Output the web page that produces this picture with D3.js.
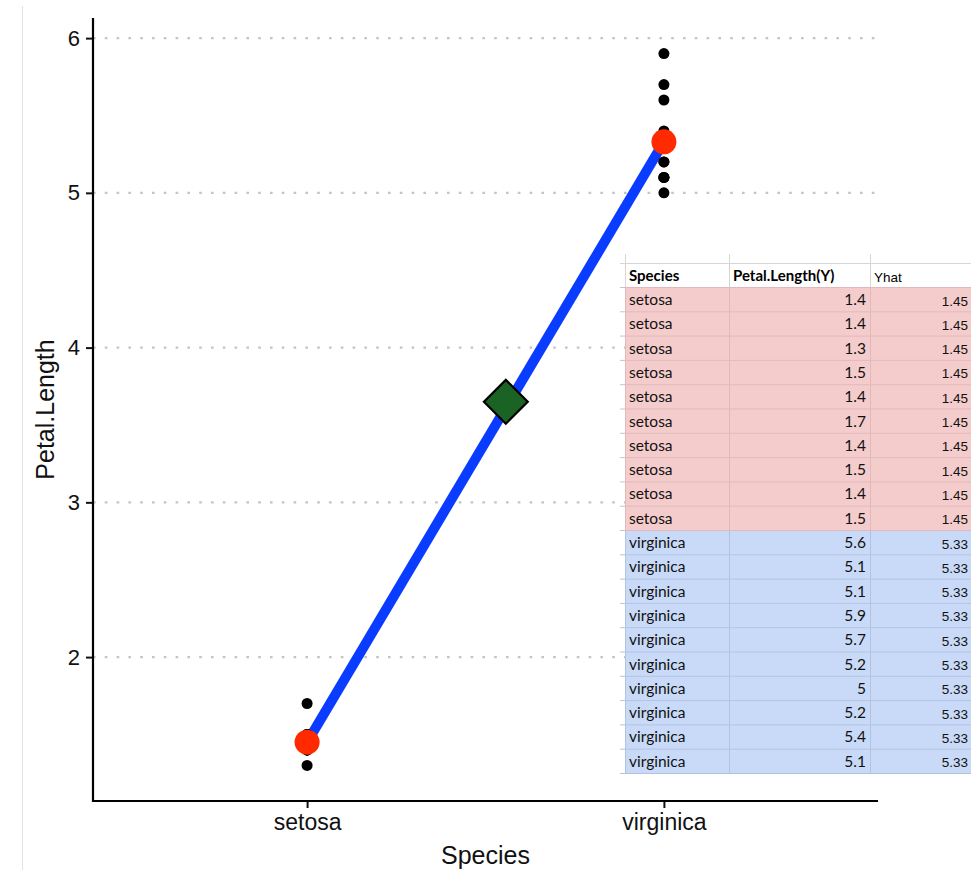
<!DOCTYPE html>
<html>
<head>
<meta charset="utf-8">
<script src="https://cdn.jsdelivr.net/npm/d3@7"></script>
<style>
  html, body { margin: 0; padding: 0; background: #fff; }
  svg { display: block; }
</style>
</head>
<body>
<svg id="chart" width="971" height="870"></svg>
<script>
// Iris petal lengths for two species, with fitted group means (Yhat)
const categories = ["setosa", "virginica"];
const setosaValues = [1.4, 1.4, 1.3, 1.5, 1.4, 1.7, 1.4, 1.5, 1.4, 1.5];
const virginicaValues = [5.6, 5.1, 5.1, 5.9, 5.7, 5.2, 5, 5.2, 5.4, 5.1];
const yhatValues = [1.45, 5.33];
const diamondPoint = { x: 1.557, y: 3.65 };
const yTicks = [2, 3, 4, 5, 6];
const tableHeaders = ["Species", "Petal.Length(Y)", "Yhat"];

const svg = d3.select("#chart");
const W = 971, H = 870;
const plot = { left: 93, right: 878, top: 18, bottom: 801 };

// faint page rule on the left edge
svg.append("line")
  .attr("x1", 22.5).attr("x2", 22.5).attr("y1", 6).attr("y2", H)
  .attr("stroke", "#e2e2e2").attr("stroke-width", 1);

// discrete x positions 1..n with ggplot-style 0.6 expansion
const x = d3.scaleLinear().domain([0.4, 2.6]).range([plot.left, plot.right]);
const allVals = setosaValues.concat(virginicaValues);
const yMin = d3.min(allVals), yMax = d3.max(allVals);
const pad = (yMax - yMin) * 0.05;
const y = d3.scaleLinear().domain([yMin - pad, yMax + pad]).range([plot.bottom, plot.top]);

// dotted horizontal grid
svg.append("g").selectAll("line").data(yTicks).join("line")
  .attr("x1", plot.left).attr("x2", plot.right)
  .attr("y1", d => y(d)).attr("y2", d => y(d))
  .attr("stroke", "#c4c4c4").attr("stroke-width", 2.4)
  .attr("stroke-dasharray", "2.6,9.2");

// axes
const yAxis = svg.append("g")
  .attr("transform", `translate(${plot.left},0)`)
  .call(d3.axisLeft(y).tickValues(yTicks).tickSize(7).tickPadding(6).tickFormat(d3.format("d")));
yAxis.select(".domain").remove();
yAxis.selectAll(".tick line").attr("stroke", "#111").attr("stroke-width", 2);
yAxis.selectAll(".tick text").attr("font-family", "Liberation Sans, Arial, sans-serif")
  .attr("font-size", 22).attr("fill", "#111");

const xAxis = svg.append("g")
  .attr("transform", `translate(0,${plot.bottom})`)
  .call(d3.axisBottom(x).tickValues([1, 2]).tickSize(7).tickPadding(6)
    .tickFormat(d => categories[d - 1]));
xAxis.select(".domain").remove();
xAxis.selectAll(".tick line").attr("stroke", "#111").attr("stroke-width", 2);
xAxis.selectAll(".tick text").attr("font-family", "Liberation Sans, Arial, sans-serif")
  .attr("font-size", 23).attr("fill", "#111");

// axis lines
svg.append("path")
  .attr("d", `M${plot.left},${plot.top}V${plot.bottom}H${plot.right}`)
  .attr("fill", "none").attr("stroke", "#000").attr("stroke-width", 2.2);

// axis titles
svg.append("text")
  .attr("x", (plot.left + plot.right) / 2).attr("y", 864)
  .attr("text-anchor", "middle")
  .attr("font-family", "Liberation Sans, Arial, sans-serif").attr("font-size", 25)
  .attr("fill", "#111").text("Species");
svg.append("text")
  .attr("transform", `translate(54,${(plot.top + plot.bottom) / 2}) rotate(-90)`)
  .attr("text-anchor", "middle")
  .attr("font-family", "Liberation Sans, Arial, sans-serif").attr("font-size", 25)
  .attr("fill", "#111").text("Petal.Length");

// regression line between the group means
svg.append("line")
  .attr("x1", x(1)).attr("y1", y(yhatValues[0]))
  .attr("x2", x(2)).attr("y2", y(yhatValues[1]))
  .attr("stroke", "#0a3cff").attr("stroke-width", 10);

// raw observations
const obs = setosaValues.map(v => ({ c: 1, v }))
  .concat(virginicaValues.map(v => ({ c: 2, v })));
svg.append("g").selectAll("circle").data(obs).join("circle")
  .attr("cx", d => x(d.c)).attr("cy", d => y(d.v)).attr("r", 5.5)
  .attr("fill", "#000");

// group means
svg.append("g").selectAll("circle").data(yhatValues).join("circle")
  .attr("cx", (d, i) => x(i + 1)).attr("cy", d => y(d)).attr("r", 12.5)
  .attr("fill", "#ff2a00");

// diamond marker on the line
svg.append("path")
  .attr("d", d3.symbol().type(d3.symbolSquare).size(31 * 31))
  .attr("transform", `translate(${x(diamondPoint.x)},${y(diamondPoint.y)}) rotate(45)`)
  .attr("fill", "#1b6324").attr("stroke", "#000").attr("stroke-width", 2.2);

// data table
const rows = setosaValues.map(v => ({ s: "setosa", v, yhat: yhatValues[0] }))
  .concat(virginicaValues.map(v => ({ s: "virginica", v, yhat: yhatValues[1] })));
const colX = [625, 729, 870, 976];
const headTop = 263.5, rowH = 24.3;
const firstRow = headTop + 24;
const tbl = svg.append("g");

tbl.append("rect").attr("x", colX[0]).attr("y", headTop)
  .attr("width", colX[3] - colX[0]).attr("height", 24).attr("fill", "#fff");
tbl.selectAll("rect.row").data(rows).join("rect").attr("class", "row")
  .attr("x", colX[0]).attr("y", (d, i) => firstRow + i * rowH)
  .attr("width", colX[3] - colX[0]).attr("height", rowH)
  .attr("fill", d => d.s === "setosa" ? "#f4cccc" : "#c9daf8");

// header rules
tbl.append("line").attr("x1", colX[0] - 5).attr("x2", colX[3])
  .attr("y1", headTop).attr("y2", headTop).attr("stroke", "#d6d6d6").attr("stroke-width", 1);
[colX[0], colX[1], colX[2]].forEach(cx => {
  tbl.append("line").attr("x1", cx + 0.5).attr("x2", cx + 0.5)
    .attr("y1", 254).attr("y2", firstRow).attr("stroke", "#d6d6d6").attr("stroke-width", 1);
});
// row rules
rows.forEach((d, i) => {
  const yy = firstRow + (i + 1) * rowH;
  const col = d.s === "setosa" ? "#dfb9bb" : "#b2c3e0";
  tbl.append("line").attr("x1", colX[0] - 5).attr("x2", colX[3])
    .attr("y1", yy).attr("y2", yy).attr("stroke", col).attr("stroke-width", 1);
  [colX[0], colX[1], colX[2]].forEach(cx => {
    tbl.append("line").attr("x1", cx + 0.5).attr("x2", cx + 0.5)
      .attr("y1", firstRow + i * rowH).attr("y2", yy)
      .attr("stroke", col).attr("stroke-width", 1);
  });
});
tbl.append("line").attr("x1", colX[0] - 5).attr("x2", colX[3])
  .attr("y1", firstRow).attr("y2", firstRow).attr("stroke", "#dfb9bb").attr("stroke-width", 1);

// header text
tbl.append("text").attr("x", colX[0] + 4).attr("y", headTop + 17.5)
  .attr("font-family", "Lato, sans-serif").attr("font-weight", "bold").attr("font-size", 15)
  .attr("fill", "#000").text(tableHeaders[0]);
tbl.append("text").attr("x", colX[1] + 4).attr("y", headTop + 17.5)
  .attr("font-family", "Lato, sans-serif").attr("font-weight", "bold").attr("font-size", 15)
  .attr("fill", "#000").text(tableHeaders[1]);
tbl.append("text").attr("x", colX[2] + 4).attr("y", headTop + 18)
  .attr("font-family", "Liberation Sans, Arial, sans-serif").attr("font-size", 13.5)
  .attr("fill", "#000").text(tableHeaders[2]);

// cell text
const rowText = tbl.selectAll("g.rt").data(rows).join("g").attr("class", "rt")
  .attr("transform", (d, i) => `translate(0,${firstRow + i * rowH})`);
rowText.append("text").attr("x", colX[0] + 4).attr("y", 17.5)
  .attr("font-family", "Lato, sans-serif").attr("font-size", 15.5).attr("fill", "#111")
  .text(d => d.s);
rowText.append("text").attr("x", colX[2] - 4).attr("y", 17.5).attr("text-anchor", "end")
  .attr("font-family", "Lato, sans-serif").attr("font-size", 15.5).attr("fill", "#111")
  .text(d => d.v);
rowText.append("text").attr("x", 968).attr("y", 18).attr("text-anchor", "end")
  .attr("font-family", "Liberation Sans, Arial, sans-serif").attr("font-size", 13.5).attr("fill", "#111")
  .text(d => d3.format(".2f")(d.yhat));
</script>
</body>
</html>
